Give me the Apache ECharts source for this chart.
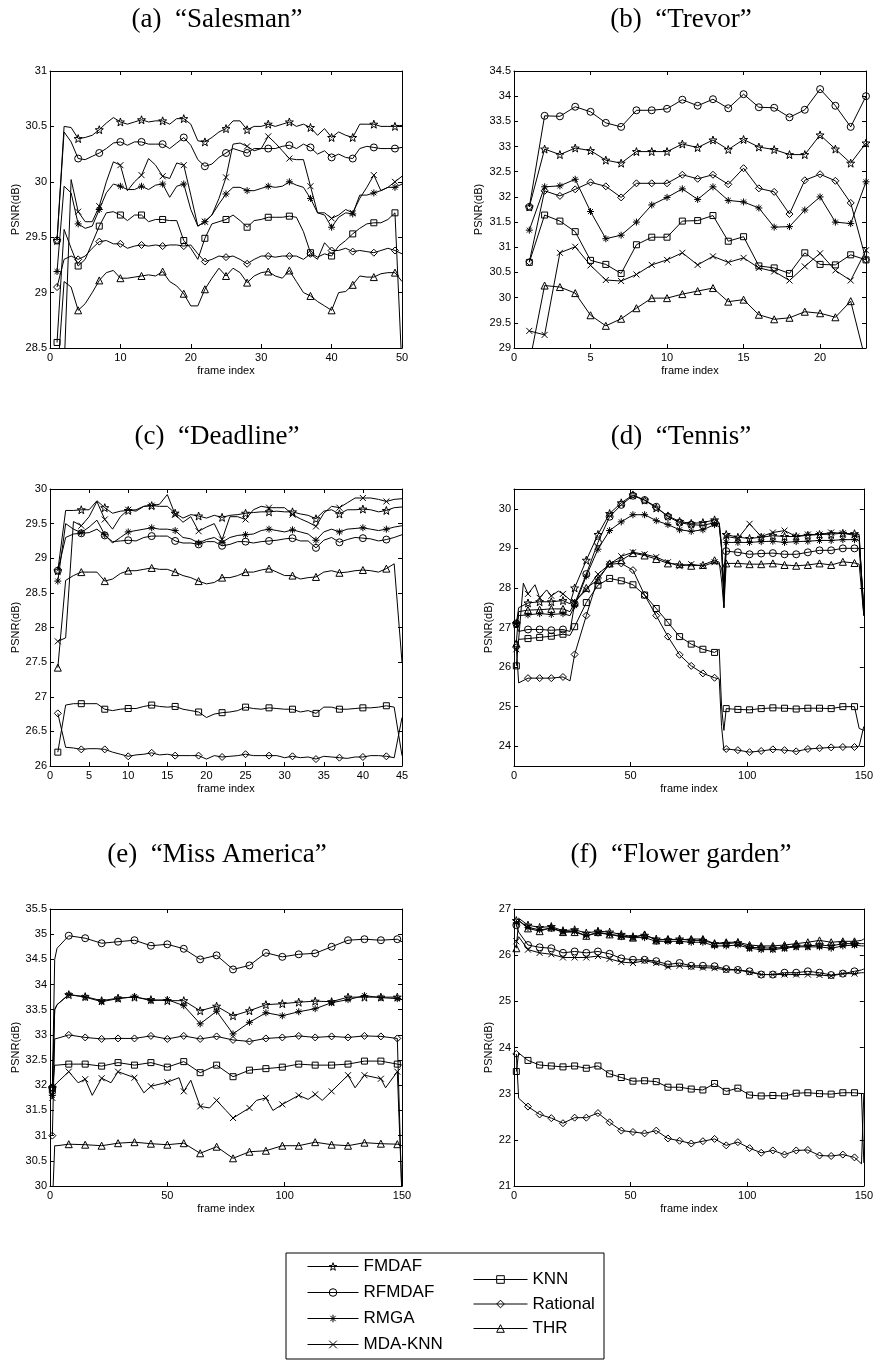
<!DOCTYPE html>
<html lang="en">
<head>
<meta charset="utf-8">
<title>PSNR per frame</title>
<script src="https://cdn.jsdelivr.net/npm/echarts@6/dist/echarts.min.js"></script>
</head>
<body style="margin:0;background:#fff">
<div id="main" style="width:876px;height:1361px"></div>
<script type="text/javascript">
// method order used by every panel
const methods = ['FMDAF', 'RFMDAF', 'RMGA', 'MDA-KNN', 'KNN', 'Rational', 'THR'];

// (a) Salesman
const salesmanFrames = [1,2,3,4,5,6,7,8,9,10,11,12,13,14,15,16,17,18,19,20,21,22,23,24,25,26,27,28,29,30,31,32,33,34,35,36,37,38,39,40,41,42,43,44,45,46,47,48,49,50];
const salesmanFMDAF = [29.47,30.50,30.49,30.39,30.40,30.42,30.47,30.53,30.58,30.54,30.52,30.54,30.56,30.54,30.55,30.55,30.52,30.57,30.57,30.52,30.37,30.36,30.40,30.45,30.48,30.55,30.55,30.47,30.50,30.50,30.52,30.50,30.52,30.54,30.50,30.52,30.49,30.42,30.48,30.40,30.45,30.42,30.40,30.52,30.52,30.52,30.50,30.50,30.50,30.51];
const salesmanRFMDAF = [29.47,30.45,30.36,30.21,30.20,30.23,30.26,30.30,30.35,30.36,30.33,30.36,30.36,30.34,30.34,30.34,30.30,30.35,30.40,30.33,30.20,30.14,30.16,30.22,30.26,30.30,30.28,30.26,30.30,30.30,30.30,30.30,30.32,30.33,30.30,30.34,30.31,30.25,30.28,30.22,30.25,30.22,30.21,30.30,30.32,30.31,30.30,30.30,30.30,30.31];
const salesmanRMGA = [29.19,29.96,29.90,29.62,29.58,29.60,29.75,29.90,29.98,29.96,29.93,29.93,29.96,29.93,29.97,29.98,29.86,29.96,29.98,29.75,29.60,29.64,29.70,29.80,29.89,29.95,29.95,29.92,29.92,29.94,29.96,29.95,29.96,30.00,29.97,29.95,29.85,29.72,29.70,29.59,29.68,29.72,29.71,29.88,29.88,29.90,29.92,29.95,29.95,29.98];
const salesmanMDAKNN = [27.50,28.30,30.02,29.73,29.64,29.64,29.78,30.00,30.18,30.15,29.92,30.00,30.06,30.21,30.15,30.05,30.03,30.17,30.15,29.88,29.60,29.64,29.70,29.85,30.04,30.34,30.35,30.32,30.28,30.30,30.41,30.35,30.28,30.21,30.20,30.20,29.96,29.72,29.72,29.67,29.70,29.75,29.72,29.85,29.95,30.06,29.92,29.95,30.00,30.05];
const salesmanKNN = [28.55,29.57,29.40,29.24,29.30,29.45,29.60,29.72,29.73,29.70,29.65,29.70,29.70,29.64,29.66,29.66,29.65,29.65,29.47,29.40,29.30,29.49,29.62,29.64,29.66,29.70,29.65,29.59,29.65,29.66,29.68,29.68,29.68,29.69,29.68,29.55,29.36,29.32,29.35,29.33,29.42,29.47,29.53,29.58,29.62,29.63,29.63,29.66,29.72,28.30];
const salesmanRational = [29.05,29.30,29.33,29.30,29.33,29.40,29.46,29.47,29.44,29.44,29.40,29.42,29.43,29.42,29.43,29.42,29.43,29.43,29.42,29.43,29.35,29.28,29.30,29.33,29.32,29.33,29.30,29.26,29.30,29.33,29.33,29.32,29.33,29.33,29.33,29.30,29.35,29.30,29.45,29.38,29.38,29.40,29.37,29.38,29.37,29.36,29.38,29.40,29.38,29.35];
const salesmanTHR = [28.20,29.10,29.05,28.84,28.90,29.00,29.11,29.18,29.20,29.13,29.13,29.14,29.15,29.16,29.15,29.19,29.10,29.06,28.99,28.88,28.88,29.03,29.13,29.22,29.15,29.22,29.18,29.09,29.15,29.18,29.19,29.15,29.13,29.20,29.10,29.00,28.97,28.92,28.88,28.84,29.00,29.01,29.07,29.15,29.14,29.14,29.17,29.18,29.18,29.10];

// (b) Trevor
const trevorFrames = [1,2,3,4,5,6,7,8,9,10,11,12,13,14,15,16,17,18,19,20,21,22,23];
const trevorFMDAF = [31.80,32.95,32.84,32.97,32.92,32.73,32.67,32.90,32.90,32.90,33.05,32.98,33.13,32.94,33.14,32.99,32.94,32.84,32.84,33.23,32.95,32.67,33.07];
const trevorRFMDAF = [31.80,33.61,33.60,33.79,33.69,33.47,33.39,33.72,33.72,33.75,33.93,33.81,33.94,33.76,34.04,33.78,33.77,33.58,33.73,34.14,33.81,33.39,34.00];
const trevorRMGA = [31.34,32.20,32.22,32.35,31.71,31.17,31.24,31.50,31.84,31.99,32.16,31.95,32.20,31.93,31.90,31.78,31.40,31.41,31.74,32.00,31.50,31.47,32.30];
const trevorMDAKNN = [29.34,29.26,30.89,31.01,30.64,30.35,30.33,30.46,30.65,30.75,30.89,30.65,30.82,30.70,30.79,30.59,30.52,30.34,30.62,30.88,30.54,30.34,30.94];
const trevorKNN = [30.70,31.64,31.52,31.31,30.74,30.66,30.48,31.05,31.20,31.20,31.52,31.53,31.63,31.12,31.21,30.63,30.59,30.48,30.89,30.66,30.65,30.85,30.75];
const trevorRational = [30.71,32.12,32.02,32.15,32.29,32.21,31.99,32.27,32.27,32.27,32.44,32.36,32.44,32.25,32.57,32.17,32.10,31.66,32.33,32.45,32.32,31.88,30.75];
const trevorTHR = [28.69,30.24,30.21,30.09,29.65,29.44,29.58,29.79,29.99,29.99,30.07,30.13,30.19,29.92,29.96,29.66,29.57,29.60,29.72,29.69,29.61,29.93,28.72];

// (c) Deadline
const deadlineFrames = [1,2,3,4,5,6,7,8,9,10,11,12,13,14,15,16,17,18,19,20,21,22,23,24,25,26,27,28,29,30,31,32,33,34,35,36,37,38,39,40,41,42,43,44,45];
const deadlineFMDAF = [28.82,29.69,29.69,29.70,29.70,29.83,29.73,29.65,29.68,29.69,29.70,29.75,29.76,29.75,29.75,29.65,29.58,29.63,29.61,29.58,29.62,29.59,29.62,29.63,29.65,29.66,29.67,29.67,29.68,29.67,29.67,29.64,29.62,29.57,29.68,29.70,29.64,29.70,29.70,29.71,29.70,29.67,29.69,29.73,29.74];
const deadlineRFMDAF = [28.82,29.30,29.35,29.36,29.37,29.42,29.33,29.24,29.25,29.26,29.25,29.30,29.32,29.32,29.32,29.25,29.22,29.22,29.20,29.24,29.24,29.18,29.20,29.24,29.24,29.22,29.24,29.25,29.26,29.28,29.29,29.25,29.25,29.15,29.26,29.30,29.23,29.27,29.30,29.29,29.28,29.25,29.27,29.30,29.34];
const deadlineRMGA = [28.67,29.50,29.42,29.37,29.45,29.55,29.34,29.22,29.30,29.38,29.40,29.42,29.44,29.42,29.42,29.40,29.30,29.28,29.22,29.27,29.30,29.23,29.30,29.33,29.34,29.35,29.40,29.42,29.40,29.38,29.41,29.38,29.35,29.26,29.38,29.42,29.38,29.42,29.43,29.44,29.42,29.40,29.42,29.45,29.47];
const deadlineMDAKNN = [27.80,27.85,29.53,29.47,29.60,29.82,29.56,29.42,29.60,29.70,29.68,29.75,29.76,29.78,29.92,29.63,29.52,29.60,29.39,29.45,29.50,29.27,29.60,29.60,29.56,29.70,29.75,29.73,29.73,29.73,29.63,29.57,29.52,29.46,29.65,29.75,29.73,29.80,29.87,29.87,29.87,29.85,29.82,29.85,29.86];
const deadlineKNN = [26.20,26.88,26.90,26.90,26.90,26.90,26.82,26.80,26.82,26.83,26.83,26.86,26.88,26.86,26.85,26.86,26.82,26.80,26.78,26.70,26.75,26.77,26.78,26.80,26.85,26.83,26.82,26.84,26.83,26.82,26.82,26.78,26.80,26.76,26.85,26.85,26.82,26.82,26.83,26.84,26.84,26.85,26.87,26.85,26.15];
const deadlineRational = [26.76,26.27,26.26,26.24,26.25,26.25,26.24,26.20,26.17,26.14,26.16,26.17,26.19,26.16,26.17,26.15,26.15,26.15,26.15,26.10,26.15,26.13,26.14,26.15,26.17,26.15,26.15,26.15,26.15,26.12,26.14,26.12,26.13,26.10,26.14,26.13,26.12,26.11,26.13,26.13,26.15,26.15,26.14,26.12,26.70];
const deadlineTHR = [27.42,28.68,28.75,28.80,28.80,28.80,28.67,28.70,28.78,28.82,28.82,28.84,28.86,28.84,28.84,28.80,28.75,28.72,28.67,28.63,28.65,28.72,28.72,28.75,28.80,28.80,28.83,28.85,28.80,28.75,28.75,28.70,28.72,28.73,28.80,28.82,28.79,28.80,28.82,28.83,28.82,28.80,28.85,28.92,27.50];

// (d) Tennis (null = not read at that frame)
const tennisFrames = [1,2,4,6,9,11,14,16,19,21,24,26,31,36,41,46,51,56,61,66,71,76,81,86,88,89,90,91,96,101,106,111,116,121,126,131,136,141,146,148,150];
const tennisFMDAF = [27.10,27.50,null,27.62,null,27.65,null,27.65,null,27.68,27.60,28.00,28.70,29.35,29.88,30.15,30.35,30.22,30.02,29.82,29.68,29.63,29.65,29.72,29.65,29.10,27.50,29.35,29.28,29.25,29.28,29.32,29.30,29.30,29.33,29.35,29.36,29.38,29.37,29.35,27.30];
const tennisRFMDAF = [27.10,26.90,null,26.95,null,26.95,null,26.93,null,26.95,26.90,27.60,28.35,29.15,29.80,30.10,30.33,30.22,30.05,29.80,29.65,29.60,29.58,29.65,29.62,29.00,27.80,28.93,28.90,28.85,28.87,28.88,28.85,28.85,28.90,28.95,28.95,29.00,29.00,29.00,27.50];
const tennisRMGA = [27.10,27.30,null,27.32,null,27.35,null,27.33,null,27.35,27.30,27.55,28.30,28.98,29.45,29.67,29.85,29.85,29.70,29.60,29.47,29.43,29.47,29.60,29.55,29.00,28.10,29.15,29.15,29.15,29.17,29.18,29.15,29.17,29.18,29.20,29.20,29.22,29.22,29.20,27.50];
const tennisMDAKNN = [26.45,26.70,28.12,27.85,28.08,27.75,27.95,27.80,27.92,27.85,27.70,27.65,27.95,28.35,28.60,28.80,28.90,28.85,28.78,28.65,28.55,28.60,28.55,28.65,28.60,28.50,28.05,29.30,29.25,29.62,29.30,29.40,29.45,29.30,29.35,29.35,29.40,29.38,29.33,29.30,27.30];
const tennisKNN = [26.03,26.70,null,26.72,null,26.75,null,26.78,null,26.83,26.80,27.02,27.63,28.07,28.24,28.18,28.08,27.82,27.48,27.13,26.77,26.58,26.45,26.37,26.45,25.00,24.40,24.95,24.93,24.92,24.95,24.97,24.96,24.94,24.96,24.96,24.95,25.00,25.00,24.45,24.40];
const tennisRational = [26.50,25.60,null,25.72,null,25.72,null,25.72,null,25.75,25.65,26.32,27.30,28.25,28.60,28.62,28.45,27.82,27.30,26.77,26.31,26.03,25.84,25.73,25.70,24.50,23.90,23.93,23.90,23.85,23.88,23.92,23.90,23.87,23.93,23.95,23.97,23.98,23.98,24.00,24.50];
const tennisTHR = [26.60,27.40,null,27.44,null,27.45,null,27.47,null,27.47,27.40,27.63,28.00,28.20,28.62,28.70,28.88,28.82,28.73,28.62,28.60,28.56,28.58,28.70,28.65,28.20,27.50,28.62,28.62,28.60,28.60,28.62,28.58,28.56,28.58,28.62,28.58,28.66,28.63,28.60,27.30];

// (e) Miss America
const missFrames = [1,2,3,8,12,15,18,22,26,29,36,40,43,50,55,57,60,64,68,71,75,78,85,88,92,95,99,106,110,113,116,120,127,130,134,141,143,148,150];
const missFMDAF = [31.95,33.50,33.60,33.80,null,33.76,null,33.68,null,33.73,33.75,null,33.70,33.68,null,33.68,null,33.48,null,33.57,null,33.38,33.48,null,33.60,null,33.62,33.65,null,33.67,null,33.66,33.75,null,33.75,33.75,null,33.75,33.70];
const missRFMDAF = [31.95,34.50,34.72,34.97,null,34.92,null,34.82,null,34.85,34.88,null,34.77,34.80,null,34.71,null,34.50,null,34.58,null,34.30,34.38,null,34.63,null,34.55,34.60,null,34.62,null,34.75,34.88,null,34.90,34.88,null,34.90,34.85];
const missRMGA = [31.80,33.50,33.60,33.80,null,33.75,null,33.66,null,33.72,33.76,null,33.68,33.70,null,33.58,null,33.22,null,33.47,null,33.02,33.25,null,33.44,null,33.38,33.46,null,33.52,null,33.64,33.70,null,33.78,33.74,null,33.72,33.70];
const missMDAKNN = [31.75,32.00,32.05,32.27,32.05,32.12,31.80,32.14,32.05,32.27,32.15,31.85,31.98,32.06,32.15,31.88,32.10,31.58,31.55,31.70,31.50,31.35,31.55,31.70,31.75,31.50,31.62,31.80,31.72,31.82,31.70,31.88,32.20,31.95,32.20,32.13,31.95,32.27,29.80];
const missKNN = [31.90,32.40,32.40,32.42,null,32.42,null,32.38,null,32.45,32.40,null,32.45,32.36,null,32.47,null,32.25,null,32.40,null,32.17,32.30,null,32.33,null,32.36,32.42,null,32.40,null,32.40,32.42,null,32.48,32.48,null,32.42,32.40];
const missRational = [31.00,32.92,32.93,33.00,null,32.95,null,32.92,null,32.93,32.93,null,32.98,32.92,null,32.98,null,32.92,null,32.97,null,32.90,32.87,null,32.93,null,32.95,32.98,null,32.95,null,32.97,32.95,null,32.98,32.97,null,32.93,29.70];
const missTHR = [29.60,30.80,30.80,30.83,null,30.82,null,30.80,null,30.85,30.87,null,30.84,30.82,null,30.85,null,30.65,null,30.78,null,30.55,30.68,null,30.70,null,30.80,30.80,null,30.87,null,30.82,30.80,null,30.86,30.84,null,30.83,30.80];

// (f) Flower garden
const flowerFrames = [1,2,6,11,16,21,26,31,36,41,46,51,56,61,66,71,76,81,86,91,96,101,106,111,116,121,126,131,136,141,146,149,150];
const flowerFMDAF = [26.75,26.80,26.65,26.60,26.62,26.53,26.55,26.48,26.52,26.50,26.45,26.40,26.43,26.35,26.33,26.35,26.32,26.32,26.25,26.25,26.27,26.17,26.16,26.15,26.17,26.20,26.20,26.22,26.20,26.25,26.25,26.25,26.25];
const flowerRFMDAF = [26.65,26.50,26.22,26.17,26.15,26.05,26.08,26.05,26.08,26.03,25.93,25.90,25.90,25.87,25.80,25.83,25.77,25.77,25.76,25.70,25.68,25.65,25.58,25.58,25.62,25.62,25.65,25.62,25.57,25.60,25.65,25.68,25.70];
const flowerRMGA = [26.70,26.75,26.60,26.55,26.58,26.50,26.52,26.42,26.48,26.45,26.40,26.38,26.38,26.30,26.30,26.30,26.28,26.28,26.20,26.20,26.22,26.15,26.12,26.12,26.15,26.18,26.18,26.18,26.15,26.20,26.22,26.20,26.20];
const flowerMDAKNN = [26.30,26.40,26.12,26.05,26.02,25.95,25.95,25.95,25.98,25.92,25.85,25.83,25.88,25.83,25.75,25.77,25.75,25.73,25.72,25.68,25.68,25.63,25.58,25.58,25.58,25.58,25.58,25.57,25.55,25.60,25.60,25.62,25.62];
const flowerKNN = [23.48,23.88,23.72,23.62,23.60,23.58,23.60,23.55,23.60,23.43,23.35,23.27,23.28,23.26,23.14,23.14,23.10,23.08,23.22,23.05,23.12,22.97,22.95,22.96,22.95,23.01,23.02,23.00,22.99,23.02,23.02,23.00,21.50];
const flowerRational = [23.86,22.90,22.72,22.55,22.47,22.36,22.48,22.48,22.58,22.38,22.20,22.17,22.14,22.20,22.03,21.98,21.92,21.97,22.02,21.88,21.95,21.82,21.72,21.77,21.68,21.77,21.78,21.66,21.65,21.68,21.62,21.48,23.00];
const flowerTHR = [26.15,26.75,26.58,26.52,26.60,26.50,26.50,26.42,26.50,26.45,26.42,26.38,26.45,26.32,26.35,26.33,26.35,26.35,26.25,26.28,26.28,26.22,26.20,26.20,26.22,26.25,26.28,26.32,26.28,26.30,26.30,26.32,26.35];

// axis ranges and tick labels
const xTicksA = [0,10,20,30,40,50];
const xTicksB = [0,5,10,15,20];
const xTicksC = [0,5,10,15,20,25,30,35,40,45];
const xTicks150 = [0,50,100,150];
const yTicksA = [28.5,29,29.5,30,30.5,31];
const yTicksB = [29,29.5,30,30.5,31,31.5,32,32.5,33,33.5,34,34.5];
const yTicksC = [26,26.5,27,27.5,28,28.5,29,29.5,30];
const yTicksD = [24,25,26,27,28,29,30];
const yTicksE = [30,30.5,31,31.5,32,32.5,33,33.5,34,34.5,35,35.5];
const yTicksF = [21,22,23,24,25,26,27];

const panels = [
  { title: '(a)  \u201cSalesman\u201d', frames: salesmanFrames, every: 3, xMax: 50, xTicks: xTicksA, yMin: 28.5, yMax: 31, yTicks: yTicksA,
    values: [salesmanFMDAF, salesmanRFMDAF, salesmanRMGA, salesmanMDAKNN, salesmanKNN, salesmanRational, salesmanTHR] },
  { title: '(b)  \u201cTrevor\u201d', frames: trevorFrames, every: 1, xMax: 23, xTicks: xTicksB, yMin: 29, yMax: 34.5, yTicks: yTicksB,
    values: [trevorFMDAF, trevorRFMDAF, trevorRMGA, trevorMDAKNN, trevorKNN, trevorRational, trevorTHR] },
  { title: '(c)  \u201cDeadline\u201d', frames: deadlineFrames, every: 3, xMax: 45, xTicks: xTicksC, yMin: 26, yMax: 30, yTicks: yTicksC,
    values: [deadlineFMDAF, deadlineRFMDAF, deadlineRMGA, deadlineMDAKNN, deadlineKNN, deadlineRational, deadlineTHR] },
  { title: '(d)  \u201cTennis\u201d', frames: tennisFrames, every: 5, xMax: 150, xTicks: xTicks150, yMin: 23.5, yMax: 30.5, yTicks: yTicksD,
    values: [tennisFMDAF, tennisRFMDAF, tennisRMGA, tennisMDAKNN, tennisKNN, tennisRational, tennisTHR] },
  { title: '(e)  \u201cMiss America\u201d', frames: missFrames, every: 7, xMax: 150, xTicks: xTicks150, yMin: 30, yMax: 35.5, yTicks: yTicksE,
    values: [missFMDAF, missRFMDAF, missRMGA, missMDAKNN, missKNN, missRational, missTHR] },
  { title: '(f)  \u201cFlower garden\u201d', frames: flowerFrames, every: 5, xMax: 150, xTicks: xTicks150, yMin: 21, yMax: 27, yTicks: yTicksF,
    values: [flowerFMDAF, flowerRFMDAF, flowerRMGA, flowerMDAKNN, flowerKNN, flowerRational, flowerTHR] }
];

// ---- layout & style ----
const colLeft = [50, 514];
const rowTop = [71, 489, 909];
const plotW = 352, plotH = 277;
const titleX = [217, 681];
const titleY = [20, 437, 855];
const yNameGap = [28, 30, 28, 20, 28, 20];
const sansFont = 'Liberation Sans, Arial, sans-serif';
const serifFont = 'Liberation Serif, DejaVu Serif, serif';

const markers = [
  'path://M0,-10L2.35,-3.24L9.51,-3.09L3.8,1.24L5.88,8.09L0,4L-5.88,8.09L-3.8,1.24L-9.51,-3.09L-2.35,-3.24Z',
  'circle',
  'path://M0,-10L0,10M-10,0L10,0M-7,-7L7,7M7,-7L-7,7',
  'path://M-10,-10L10,10M10,-10L-10,10',
  'rect',
  'diamond',
  'triangle'
];
const markerSize = [8, 7, 7, 6, 6, 7, 7];

const black = '#000';
const hollow = { color: 'rgba(0,0,0,0)', borderColor: black, borderWidth: 1 };
const labelStyle = { color: black, fontSize: 11, fontFamily: sansFont };

const grids = [], xAxes = [], yAxes = [], series = [], graphics = [];

panels.forEach(function (p, i) {
  const col = i % 2, row = Math.floor(i / 2);
  grids.push({ left: colLeft[col], top: rowTop[row], width: plotW, height: plotH });

  const tick = function (vals) {
    return { show: true, inside: true, length: 4, customValues: vals, lineStyle: { color: black, width: 1 } };
  };
  const line = { show: true, onZero: false, lineStyle: { color: black, width: 1 } };

  xAxes.push({
    gridIndex: i, type: 'value', position: 'bottom', min: 0, max: p.xMax,
    axisLine: line, axisTick: tick(p.xTicks), splitLine: { show: false },
    axisLabel: Object.assign({ customValues: p.xTicks, margin: 4 }, labelStyle),
    name: 'frame index', nameLocation: 'middle', nameGap: 17, nameTextStyle: labelStyle
  });
  xAxes.push({
    gridIndex: i, type: 'value', position: 'top', min: 0, max: p.xMax,
    axisLine: line, axisTick: tick(p.xTicks), splitLine: { show: false }, axisLabel: { show: false }
  });
  yAxes.push({
    gridIndex: i, type: 'value', position: 'left', min: p.yMin, max: p.yMax,
    axisLine: line, axisTick: tick(p.yTicks), splitLine: { show: false },
    axisLabel: Object.assign({ customValues: p.yTicks, margin: 3 }, labelStyle),
    name: 'PSNR(dB)', nameLocation: 'middle', nameRotate: 90, nameGap: yNameGap[i], nameTextStyle: labelStyle
  });
  yAxes.push({
    gridIndex: i, type: 'value', position: 'right', min: p.yMin, max: p.yMax,
    axisLine: line, axisTick: tick(p.yTicks), splitLine: { show: false }, axisLabel: { show: false }
  });

  graphics.push({
    type: 'text', x: titleX[col], y: titleY[row], silent: true,
    style: { text: p.title, fill: black, fontSize: 27, fontFamily: serifFont,
             align: 'center', verticalAlign: 'middle', textAlign: 'center', textVerticalAlign: 'middle' }
  });

  p.values.forEach(function (vals, k) {
    const data = [];
    p.frames.forEach(function (f, j) {
      if (vals[j] === null) return;
      const item = { value: [f, vals[j]] };
      if ((f - 1) % p.every !== 0) item.symbol = 'none';
      data.push(item);
    });
    series.push({
      type: 'line', name: methods[k], xAxisIndex: 2 * i, yAxisIndex: 2 * i,
      data: data, symbol: markers[k], symbolSize: markerSize[k], showAllSymbol: true,
      clip: true, silent: true, emphasis: { disabled: true },
      lineStyle: { color: black, width: 1 },
      itemStyle: hollow
    });
  });
});

// legend frame
graphics.push({
  type: 'rect', silent: true,
  shape: { x: 286, y: 1253, width: 318, height: 106 },
  style: { fill: 'none', stroke: black, lineWidth: 1 }
});

const legendText = { color: black, fontSize: 17, fontFamily: sansFont };
const legendCommon = {
  orient: 'vertical', itemHeight: 9.5, selectedMode: false, textStyle: legendText,
  itemStyle: hollow, lineStyle: { color: black, width: 1 }
};

const chart = echarts.init(document.getElementById('main'), null, { renderer: 'canvas' });
chart.setOption({
  backgroundColor: '#fff',
  animation: false,
  grid: grids,
  xAxis: xAxes,
  yAxis: yAxes,
  legend: [
    Object.assign({ data: methods.slice(0, 4), left: 302, top: 1253, itemWidth: 51, itemGap: 9 }, legendCommon),
    Object.assign({ data: methods.slice(4), left: 468, top: 1266, itemWidth: 54, itemGap: 7.5 }, legendCommon)
  ],
  graphic: graphics,
  series: series
});
</script>
</body>
</html>
